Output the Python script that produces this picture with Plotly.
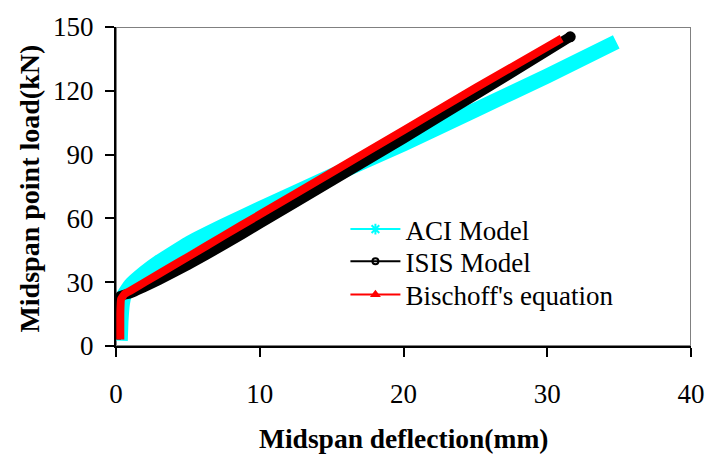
import plotly.graph_objects as go

# Load–deflection predictions (deflection in mm, load in kN)
aci_defl = [0.30, 0.35, 0.45, 0.60, 1.0, 2.0, 3.0, 5.0, 7.5, 10.0, 15.0, 20.0, 25.0, 30.0, 34.8]
aci_load = [2.5, 12.0, 20.0, 24.5, 28.5, 34.5, 39.5, 48.0, 56.5, 64.5, 80.0, 95.0, 111.0, 127.0, 143.0]

isis_defl = [0.0, 0.0, 0.10, 0.30, 1.0, 3.0, 5.0, 7.5, 10.0, 15.0, 20.0, 25.0, 31.6]
isis_load = [3.0, 12.0, 20.0, 23.5, 24.8, 31.0, 38.0, 47.5, 57.5, 77.5, 97.5, 118.0, 145.4]

bisc_defl = [0.30, 0.30, 0.35, 0.60, 1.0, 3.0, 5.0, 7.5, 10.0, 15.0, 20.0, 25.0, 31.0]
bisc_load = [3.0, 15.0, 22.0, 24.5, 26.0, 34.0, 41.9, 51.9, 61.8, 81.6, 101.4, 121.3, 144.6]

series_names = ["ACI Model", "ISIS Model", "Bischoff's equation"]
x_ticks = [0, 10, 20, 30, 40]
y_ticks = [0, 30, 60, 90, 120, 150]

FONT = "Liberation Serif, Times New Roman, serif"

fig = go.Figure()

curves = [
    (aci_defl, aci_load, "#00FFFF", 15, "asterisk-open", 9, "legend", False),
    (isis_defl, isis_load, "#000000", 10, "circle-open", 6, "legend2", True),
    (bisc_defl, bisc_load, "#FF0000", 8, "triangle-up", 6, "legend3", False),
]

for (xs, ys, color, width, symbol, msize, leg, round_end), name in zip(curves, series_names):
    # thick curve drawn from the data
    fig.add_trace(go.Scatter(
        x=xs, y=ys, mode="lines", name=name, legendgroup=name,
        showlegend=False,
        line=dict(color=color, width=width, shape="spline", smoothing=0.3),
        hoverinfo="skip",
    ))
    if round_end:
        # rounded end of the curve
        fig.add_trace(go.Scatter(
            x=xs[-1:], y=ys[-1:], mode="markers", showlegend=False,
            legendgroup=name, hoverinfo="skip",
            marker=dict(symbol="circle", size=width + 1, color=color, line=dict(width=0)),
        ))
    # slim legend sample with marker
    fig.add_trace(go.Scatter(
        x=[None], y=[None], mode="lines+markers", name=name, legendgroup=name,
        legend=leg,
        line=dict(color=color, width=2),
        marker=dict(symbol=symbol, size=msize, color=color,
                    line=dict(color=color, width=2)),
    ))

# grey frame on top and right of the plotting area
fig.add_shape(type="rect", xref="x", yref="y", x0=0, x1=40, y0=0, y1=150,
              line=dict(color="#808080", width=2), layer="below")

legend_style = dict(
    x=0.399, xanchor="left", yanchor="middle",
    bgcolor="rgba(0,0,0,0)", borderwidth=0,
    font=dict(family=FONT, size=27, color="black"),
    itemwidth=50,
)

fig.update_layout(
    width=717, height=468,
    margin=dict(l=116, r=20, t=18, b=122),
    paper_bgcolor="white", plot_bgcolor="white",
    font=dict(family=FONT, size=27, color="black"),
    showlegend=True,
    legend=dict(y=0.365, **legend_style),
    legend2=dict(y=0.264, **legend_style),
    legend3=dict(y=0.160, **legend_style),
    annotations=[
        dict(text="<b>Midspan deflection(mm)</b>", xref="paper", yref="paper",
             x=0.5, y=-0.29, xanchor="center", yanchor="middle",
             showarrow=False, font=dict(family=FONT, size=27.5, color="black")),
        dict(text="<b>Midspan point load(kN)</b>", xref="paper", yref="paper",
             x=-0.151, y=0.494, xanchor="center", yanchor="middle",
             textangle=-90, showarrow=False,
             font=dict(family=FONT, size=28, color="black")),
    ],
)

fig.update_xaxes(
    range=[0, 40], tickvals=x_ticks, ticktext=[str(v) for v in x_ticks],
    showgrid=False, zeroline=False,
    showline=True, linecolor="black", linewidth=2,
    ticks="outside", ticklen=9, tickwidth=2, tickcolor="black",
    ticklabelstandoff=14,
    tickfont=dict(family=FONT, size=27, color="black"),
)

fig.update_yaxes(
    range=[0, 150], tickvals=y_ticks, ticktext=[str(v) for v in y_ticks],
    showgrid=False, zeroline=False,
    showline=True, linecolor="black", linewidth=2,
    ticks="outside", ticklen=9, tickwidth=2, tickcolor="black",
    ticklabelstandoff=6,
    tickfont=dict(family=FONT, size=27, color="black"),
)

fig.write_html("out.html")
